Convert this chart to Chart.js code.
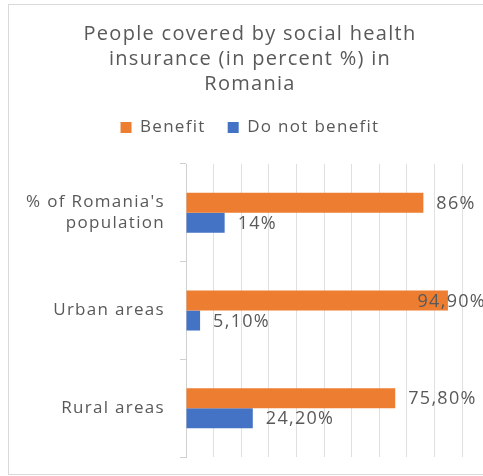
<!DOCTYPE html>
<html>
<head>
<meta charset="utf-8">
<script src="https://cdn.jsdelivr.net/npm/chart.js@4"></script>
<style>
  html, body { margin: 0; padding: 0; background: #fff; overflow: hidden; }
  #clip { width: 483px; height: 476px; overflow: hidden; }
  #wrap { width: 492px; height: 476px; position: relative; }
</style>
</head>
<body>
<div id="clip"><div id="wrap"><canvas id="chart"></canvas></div></div>
<script>
// Data
const categories = [["% of Romania's", "population"], "Urban areas", "Rural areas"];
const benefit = [86, 94.9, 75.8];
const notBenefit = [14, 5.1, 24.2];
const benefitLabels = ["86%", "94,90%", "75,80%"];
const notBenefitLabels = ["14%", "5,10%", "24,20%"];

const textColor = '#595959';
const fontFamily = "'Open Sans', 'Noto Sans', sans-serif";

// Frame around the chart, and the wide letter spacing of the original
const spacing = (chart) => { chart.ctx.letterSpacing = '1.3px'; };
const framePlugin = {
    id: 'frame',
    beforeUpdate: spacing,
    beforeLayout: spacing,
    beforeDraw(chart) {
        spacing(chart);
        const c = chart.ctx;
        c.save();
        c.fillStyle = '#fff';
        c.fillRect(0, 0, chart.width, chart.height);
        c.strokeStyle = '#d9d9d9';
        c.lineWidth = 1;
        c.strokeRect(8.5, 4.5, chart.width + 10, 470);
        c.restore();
    }
};

// Value labels at the end of bars
const valueLabels = {
    id: 'valueLabels',
    afterDatasetsDraw(chart) {
        const c = chart.ctx;
        const texts = [benefitLabels, notBenefitLabels];
        c.save();
        c.font = '18px ' + fontFamily;
        c.fillStyle = textColor;
        c.textBaseline = 'middle';
        chart.data.datasets.forEach((ds, i) => {
            chart.getDatasetMeta(i).data.forEach((bar, j) => {
                const t = texts[i][j];
                const w = c.measureText(t).width;
                let x = bar.x + 13;
                if (x + w > 486) x = 486 - w;
                c.fillText(t, x, bar.y + 1);
            });
        });
        c.restore();
    }
};

new Chart(document.getElementById('chart'), {
    type: 'bar',
    data: {
        labels: categories,
        datasets: [
            { label: 'Benefit', data: benefit, backgroundColor: '#ED7D31' },
            { label: 'Do not benefit', data: notBenefit, backgroundColor: '#4472C4' }
        ]
    },
    options: {
        indexAxis: 'y',
        responsive: true,
        maintainAspectRatio: false,
        animation: false,
        events: [],
        barPercentage: 1,
        categoryPercentage: 0.41,
        layout: { padding: { left: 8, right: 0, top: 22, bottom: 19 } },
        plugins: {
            title: {
                display: true,
                text: ['People covered by social health', 'insurance (in percent %) in', 'Romania'],
                color: textColor,
                font: { family: fontFamily, size: 20, weight: 'normal', lineHeight: 1.25 },
                padding: { top: 0, bottom: 0 }
            },
            legend: {
                position: 'top',
                labels: {
                    color: textColor,
                    font: { family: fontFamily, size: 17 },
                    boxWidth: 11,
                    boxHeight: 11,
                    padding: 22
                }
            },
            tooltip: { enabled: false }
        },
        scales: {
            x: {
                position: 'top',
                min: 0,
                max: 100,
                afterFit(scale) { scale.height = 18; },
                ticks: { display: false, stepSize: 10 },
                grid: { color: '#e0e0e0', drawTicks: false },
                border: { display: false }
            },
            y: {
                afterFit(scale) {
                    scale.width = 178;
                    scale.paddingTop = 0;
                    scale.paddingBottom = 0;
                },
                ticks: {
                    color: textColor,
                    font: { family: fontFamily, size: 17 },
                    crossAlign: 'near',
                    padding: 15
                },
                grid: { drawOnChartArea: false, tickLength: 6, color: '#d0d0d0' },
                border: { color: '#d0d0d0' }
            },
            yRight: {
                type: 'category',
                position: 'right',
                afterFit(scale) { scale.width = 30; },
                ticks: { display: false },
                grid: { display: false },
                border: { display: false }
            }
        }
    },
    plugins: [framePlugin, valueLabels]
});
</script>
</body>
</html>
